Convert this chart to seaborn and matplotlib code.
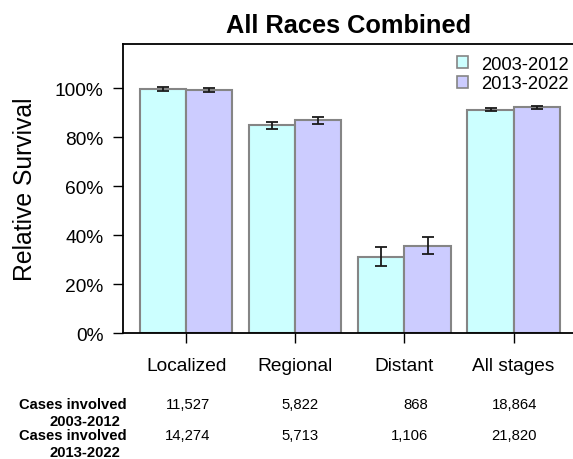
import numpy as np
import pandas as pd
import seaborn as sns
import matplotlib.pyplot as plt
import matplotlib.transforms as mtransforms

# ============================ DATA ====================================

stages = ['Localized', 'Regional', 'Distant', 'All stages']
periods = ['2003-2012', '2013-2022']

surv_2003 = [99.7, 85.0, 31.3, 91.3]
surv_2013 = [99.4, 86.9, 35.7, 92.2]
err_2003 = [0.8, 1.4, 3.75, 0.7]
err_2013 = [0.7, 1.3, 3.5, 0.7]

cases_2003 = ['11,527', '5,822', '868', '18,864']
cases_2013 = ['14,274', '5,713', '1,106', '21,820']

colors = ['#ccffff', '#ccccff']

# ============================ PLOT ====================================

sns.set_style('white')
plt.rcParams['font.family'] = ['Liberation Sans', 'DejaVu Sans']
for key in ['text.color', 'axes.labelcolor', 'xtick.color', 'ytick.color']:
    plt.rcParams[key] = 'black'

df = pd.DataFrame({
    'stage': stages * 2,
    'period': np.repeat(periods, len(stages)),
    'survival': surv_2003 + surv_2013,
})

fig = plt.figure(figsize=(5.73, 4.6), dpi=100)
ax = fig.add_axes([123.3 / 573, 1 - 334.3 / 460, 449.7 / 573, 289.3 / 460])

sns.barplot(data=df, x='stage', y='survival', hue='period',
            order=stages, hue_order=periods, palette=colors,
            width=0.845, errorbar=None, edgecolor='#858585',
            linewidth=1.5, saturation=1, ax=ax)

# Error bars on each bar centre
errs = err_2003 + err_2013
vals = surv_2003 + surv_2013
bars = [p for p in ax.patches if p.get_height() > 0][:len(vals)]
for bar, v, e in zip(bars, vals, errs):
    xc = bar.get_x() + bar.get_width() / 2
    ax.errorbar(xc, v, yerr=e, color='#1a1a1a', capsize=4.6,
                elinewidth=1.3, capthick=1.3)

ax.set_ylim(0, 118.1)
ax.set_xlim(-0.578, 3.545)
ax.set_yticks([0, 20, 40, 60, 80, 100])
ax.set_yticklabels([f'{t}%' for t in [0, 20, 40, 60, 80, 100]],
                   fontsize=13.8)
ax.set_xticklabels(stages, fontsize=13.8)
ax.tick_params(axis='y', direction='out', length=7.2, width=1, left=True,
               pad=7)
ax.tick_params(axis='x', direction='out', length=7.2, width=1, bottom=True,
               pad=10)
ax.set_xlabel('')
ax.set_ylabel('Relative Survival', fontsize=17.8, labelpad=13)
for side in ['left', 'bottom', 'top']:
    ax.spines[side].set_color('black')
    ax.spines[side].set_linewidth(1.3)
ax.spines['right'].set_visible(False)

ax.set_title('All Races Combined', fontsize=18.3, fontweight='bold', pad=9)

leg = ax.legend(loc='upper right', frameon=False, fontsize=13.2,
                bbox_to_anchor=(574 / 573, 1 - 51 / 460),
                bbox_transform=fig.transFigure,
                handlelength=0.6, handleheight=0.6, handletextpad=0.7,
                labelspacing=0.15, borderaxespad=0, borderpad=0.3)
for h in leg.legend_handles:
    h.set_edgecolor('#858585')
    h.set_linewidth(1.2)

# Cases table below the axes
row_y = [1 - 405 / 460, 1 - 436 / 460]
sub_y = [1 - 422 / 460, 1 - 453 / 460]
for ry, sy, per in zip(row_y, sub_y, periods):
    fig.text(127 / 573, ry, 'Cases involved', ha='right', va='center',
             fontsize=10.6, fontweight='bold')
    fig.text(120 / 573, sy, per, ha='right', va='center',
             fontsize=10.6, fontweight='bold')

trans = mtransforms.blended_transform_factory(ax.transData, fig.transFigure)
for i, (c1, c2) in enumerate(zip(cases_2003, cases_2013)):
    ax.text(i + 0.215, row_y[0], c1, ha='right', va='center',
            fontsize=10.7, transform=trans)
    ax.text(i + 0.215, row_y[1], c2, ha='right', va='center',
            fontsize=10.7, transform=trans)

fig.savefig('out.png', dpi=100)
